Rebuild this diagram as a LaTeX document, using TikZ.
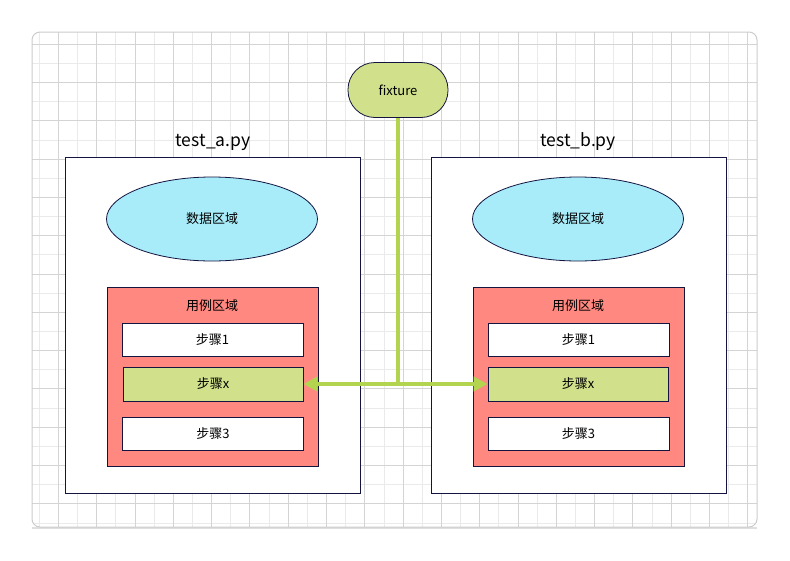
\documentclass[tikz,border=0pt]{standalone}
\usepackage{fontspec}
\setmainfont{Noto Sans CJK SC}
\usetikzlibrary{shapes.geometric,arrows.meta,shadows}
\definecolor{gridminor}{HTML}{EAEAEA}
\definecolor{gridmajor}{HTML}{D4D4D4}
\definecolor{navy}{HTML}{141440}
\definecolor{fixgreen}{HTML}{D0E08B}
\definecolor{linegreen}{HTML}{B3D44E}
\definecolor{cyanfill}{HTML}{A8ECFA}
\definecolor{redfill}{HTML}{FF8880}
\tikzset{
  px/.style={x=1pt,y=-1pt},
  panel/.style={draw=navy,fill=white,line width=0.8pt},
  region/.style={draw=navy,fill=redfill,line width=0.8pt},
  stepbox/.style={draw=navy,fill=white,line width=0.8pt,minimum width=181pt,minimum height=33pt,inner sep=0pt},
  stepgreen/.style={draw=navy,fill=fixgreen,line width=0.8pt,minimum width=180pt,minimum height=34pt,inner sep=0pt},
  ell/.style={ellipse,draw=navy,fill=cyanfill,line width=0.8pt,minimum width=211pt,minimum height=84pt,inner sep=0pt},
  lbl/.style={font=\fontsize{13}{15}\selectfont,text=black},
  title/.style={font=\fontsize{17.5}{20}\selectfont,text=black},
  conn/.style={draw=linegreen,line width=4pt},
  arr/.style={conn,-{Triangle[length=14pt,width=14pt]}},
}
\begin{document}
\begin{tikzpicture}[px]
\useasboundingbox (0,0) rectangle (790,560);
% canvas
\fill[white,drop shadow={shadow xshift=0pt,shadow yshift=-1.5pt,opacity=0.25}] (32,32) rectangle (757,527);
\begin{scope}
\clip[rounded corners=8pt] (32,32) rectangle (757,527);
\fill[white] (32,32) rectangle (757,527);
\foreach \i in {0,...,38} {
  \pgfmathsetmacro{\xx}{39.2+19.15*\i}
  \draw[gridminor,line width=0.8pt] (\xx,32) -- (\xx,527);
}
\foreach \i in {0,...,26} {
  \pgfmathsetmacro{\yy}{25+19.15*\i}
  \draw[gridminor,line width=0.8pt] (32,\yy) -- (757,\yy);
}
\foreach \i in {0,...,18} {
  \pgfmathsetmacro{\xx}{58.35+38.3*\i}
  \draw[gridmajor,line width=0.8pt] (\xx,32) -- (\xx,527);
}
\foreach \i in {0,...,12} {
  \pgfmathsetmacro{\yy}{44.15+38.3*\i}
  \draw[gridmajor,line width=0.8pt] (32,\yy) -- (757,\yy);
}
\end{scope}
\draw[gray!40,line width=1pt,rounded corners=8pt] (32,32) rectangle (757,527);

% panels
\draw[panel] (65,157) rectangle (360,493);
\draw[panel] (431,157) rectangle (726,493);
\node[title] (ta) at (213,142) {test\_a.py};
\node[title] (tb) at (578,142) {test\_b.py};

\node[ell,lbl] (da) at (212,219) {数据区域};
\node[ell,lbl] (db) at (578,219) {数据区域};

\draw[region] (107,287) rectangle (318,466);
\draw[region] (473,287) rectangle (684,466);
\node[lbl] (ra) at (212,306) {用例区域};
\node[lbl] (rb) at (578,306) {用例区域};

\node[stepbox,lbl] (a1) at (212.5,339.5) {步骤1};
\node[stepgreen,lbl] (ax) at (213,384) {步骤x};
\node[stepbox,lbl] (a3) at (213,433.5) {步骤3};
\node[stepbox,lbl] (b1) at (578.5,339.5) {步骤1};
\node[stepgreen,lbl] (bx) at (578,384) {步骤x};
\node[stepbox,lbl] (b3) at (578.5,433.5) {步骤3};

% fixture
\node[draw=navy,fill=fixgreen,line width=0.8pt,rounded corners=27pt,minimum width=100pt,minimum height=55pt,inner sep=0pt,lbl] (fx) at (398,90) {fixture};

\coordinate (j) at (398,384);
\draw[conn] (fx.south) -- (j);
\draw[arr] (j) -- (ax.east);
\draw[arr] (j) -- (bx.west);
\end{tikzpicture}
\end{document}
